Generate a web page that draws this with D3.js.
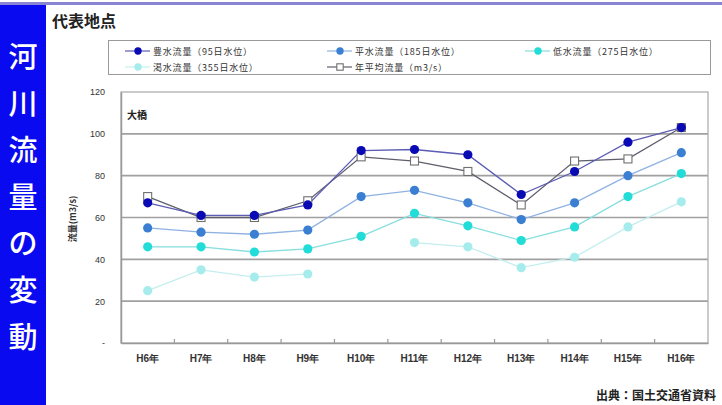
<!DOCTYPE html>
<html>
<head>
<meta charset="utf-8">
<script src="https://cdn.jsdelivr.net/npm/d3@7"></script>
<style>
  html, body { margin: 0; padding: 0; background: #fff; }
  svg { display: block; font-family: "Noto Sans CJK JP", "Noto Sans", sans-serif; }
</style>
</head>
<body>
<svg id="chart" width="722" height="405"></svg>
<script>
// 年度（平成）
const years = ["H6年", "H7年", "H8年", "H9年", "H10年", "H11年", "H12年", "H13年", "H14年", "H15年", "H16年"];

// 流量 (m3/s) — 大橋地点
const houSui   = [67, 61, 61, 66, 92, 92.5, 90, 71, 82, 96, 103];          // 豊水流量（95日水位）
const heiSui   = [55, 53, 52, 54, 70, 73, 67, 59, 67, 80, 91];             // 平水流量（185日水位）
const teiSui   = [46, 46, 43.5, 45, 51, 62, 56, 49, 55.5, 70, 81];         // 低水流量（275日水位）
const kassui   = [25, 35, 31.5, 33, null, 48, 46, 36, 41, 55.5, 67.5];     // 渇水流量（355日水位）
const nenHeikin = [70, 60, 60, 68, 89, 87, 82, 66, 87, 88, 103];           // 年平均流量（m3/s）

const yTicks = [0, 20, 40, 60, 80, 100, 120];
const sideTitle = ["河", "川", "流", "量", "の", "変", "動"];

const series = [
  { name: "渇水流量（355日水位）", values: kassui,    line: "#c4eeee", fill: "#a6ecec", shape: "circle" },
  { name: "低水流量（275日水位）", values: teiSui,    line: "#86dede", fill: "#22dcd8", shape: "circle" },
  { name: "平水流量（185日水位）", values: heiSui,    line: "#8fb2e2", fill: "#3a7fd2", shape: "circle" },
  { name: "年平均流量（m3/s）",    values: nenHeikin, line: "#5e5e6c", fill: "#ffffff", shape: "square" },
  { name: "豊水流量（95日水位）",  values: houSui,    line: "#5c5cb4", fill: "#0a0ab4", shape: "circle" }
];
const legendOrder = [4, 2, 1, 0, 3];

const svg = d3.select("#chart");

// 上端の罫線
svg.append("rect").attr("x", 0).attr("y", 2).attr("width", 722).attr("height", 3).attr("fill", "#8a84d4");

// 左側の縦見出し
svg.append("rect").attr("x", 0).attr("y", 5).attr("width", 46).attr("height", 400).attr("fill", "#0a0af0");
sideTitle.forEach((c, i) => {
  svg.append("text")
    .attr("x", 23).attr("y", 55 + i * 46.6)
    .attr("text-anchor", "middle").attr("dominant-baseline", "central")
    .attr("fill", "#fff").attr("font-size", 29).attr("font-weight", 500)
    .text(c);
});

// 表題
svg.append("text").attr("x", 52).attr("y", 27)
  .attr("font-size", 16).attr("font-weight", 700).attr("fill", "#222")
  .text("代表地点");

// 凡例
const legend = svg.append("g");
legend.append("rect").attr("x", 108.5).attr("y", 40.5).attr("width", 602).attr("height", 34)
  .attr("fill", "#fff").attr("stroke", "#9a9a9a").attr("stroke-width", 1);
const legCols = [125, 327, 525];
const legRows = [51, 67];
legendOrder.forEach((si, k) => {
  const s = series[si];
  const col = k < 3 ? k : k - 3;
  const row = k < 3 ? 0 : 1;
  const x0 = legCols[col], y0 = legRows[row];
  legend.append("line").attr("x1", x0).attr("x2", x0 + 25).attr("y1", y0).attr("y2", y0)
    .attr("stroke", s.line).attr("stroke-width", 1.2);
  drawMarker(legend, s, x0 + 13, y0, 0.8);
  legend.append("text").attr("x", x0 + 28).attr("y", y0).attr("dominant-baseline", "central")
    .attr("font-size", 9).attr("fill", "#333").attr("letter-spacing", 0.8)
    .text(s.name);
});

// プロット領域
const plot = { left: 121, top: 92, right: 708, bottom: 343 };
const x = d3.scaleBand().domain(years).range([plot.left, plot.right]);
const y = d3.scaleLinear().domain([0, 120]).range([plot.bottom, plot.top]);

const g = svg.append("g");

// 目盛線
g.selectAll("line.grid").data(yTicks.filter(d => d > 0 && d < 120)).join("line")
  .attr("class", "grid")
  .attr("x1", plot.left).attr("x2", plot.right)
  .attr("y1", d => y(d)).attr("y2", d => y(d))
  .attr("stroke", "#a0a0a0").attr("stroke-width", 1.6);

// 枠
g.append("rect").attr("x", plot.left).attr("y", plot.top)
  .attr("width", plot.right - plot.left).attr("height", plot.bottom - plot.top)
  .attr("fill", "none").attr("stroke", "#a8a8a8").attr("stroke-width", 1.2);

// Y軸
const yAxis = d3.axisLeft(y).tickValues(yTicks).tickSize(0).tickPadding(16)
  .tickFormat(d => d === 0 ? "-" : d3.format("d")(d));
const ya = svg.append("g").attr("transform", `translate(${plot.left},0)`).call(yAxis);
ya.select(".domain").attr("stroke", "#999").attr("stroke-width", 1.5);
ya.selectAll("text").attr("font-size", 9).attr("fill", "#333").attr("font-family", "Arial, 'Liberation Sans', sans-serif");

// X軸
const xAxis = d3.axisBottom(x).tickSize(0).tickPadding(12);
const xa = svg.append("g").attr("transform", `translate(0,${plot.bottom})`).call(xAxis);
xa.select(".domain").attr("stroke", "#999").attr("stroke-width", 1.5);
xa.selectAll("text").attr("font-size", 10).attr("font-weight", 700).attr("fill", "#333");
// 区切りの目盛
const bounds = years.slice(1).map(d => x(d));
g.selectAll("line.xtick").data(bounds).join("line")
  .attr("x1", d => d).attr("x2", d => d)
  .attr("y1", plot.bottom - 4).attr("y2", plot.bottom)
  .attr("stroke", "#999").attr("stroke-width", 1.2);

// 軸ラベル
svg.append("text")
  .attr("transform", `translate(72,219) rotate(-90)`)
  .attr("text-anchor", "middle").attr("dominant-baseline", "central")
  .attr("font-size", 9).attr("font-weight", 700).attr("fill", "#333")
  .text("流量(m3/s)");

// 地点名
svg.append("text").attr("x", 127).attr("y", 119)
  .attr("font-size", 10).attr("font-weight", 700).attr("fill", "#222")
  .text("大橋");

// 系列
const cx = d => x(d) + x.bandwidth() / 2;
const lineGen = d3.line()
  .defined(d => d.v != null)
  .x(d => cx(d.year)).y(d => y(d.v));

series.forEach(s => {
  const pts = years.map((yr, i) => ({ year: yr, v: s.values[i] }));
  g.append("path").datum(pts)
    .attr("fill", "none").attr("stroke", s.line).attr("stroke-width", 1.3)
    .attr("d", lineGen);
});
series.forEach(s => {
  years.forEach((yr, i) => {
    const v = s.values[i];
    if (v == null) return;
    drawMarker(g, s, cx(yr), y(v), 1);
  });
});

function drawMarker(parent, s, px, py, k) {
  if (s.shape === "square") {
    const h = 8 * k;
    parent.append("rect").attr("x", px - h / 2).attr("y", py - h / 2)
      .attr("width", h).attr("height", h)
      .attr("fill", "#fff").attr("stroke", "#707070").attr("stroke-width", 1.1);
  } else {
    parent.append("circle").attr("cx", px).attr("cy", py).attr("r", 4.6 * k)
      .attr("fill", s.fill);
  }
}

// 出典
svg.append("text").attr("x", 716).attr("y", 400)
  .attr("text-anchor", "end")
  .attr("font-size", 12).attr("font-weight", 700).attr("fill", "#222")
  .text("出典：国土交通省資料");
</script>
</body>
</html>
